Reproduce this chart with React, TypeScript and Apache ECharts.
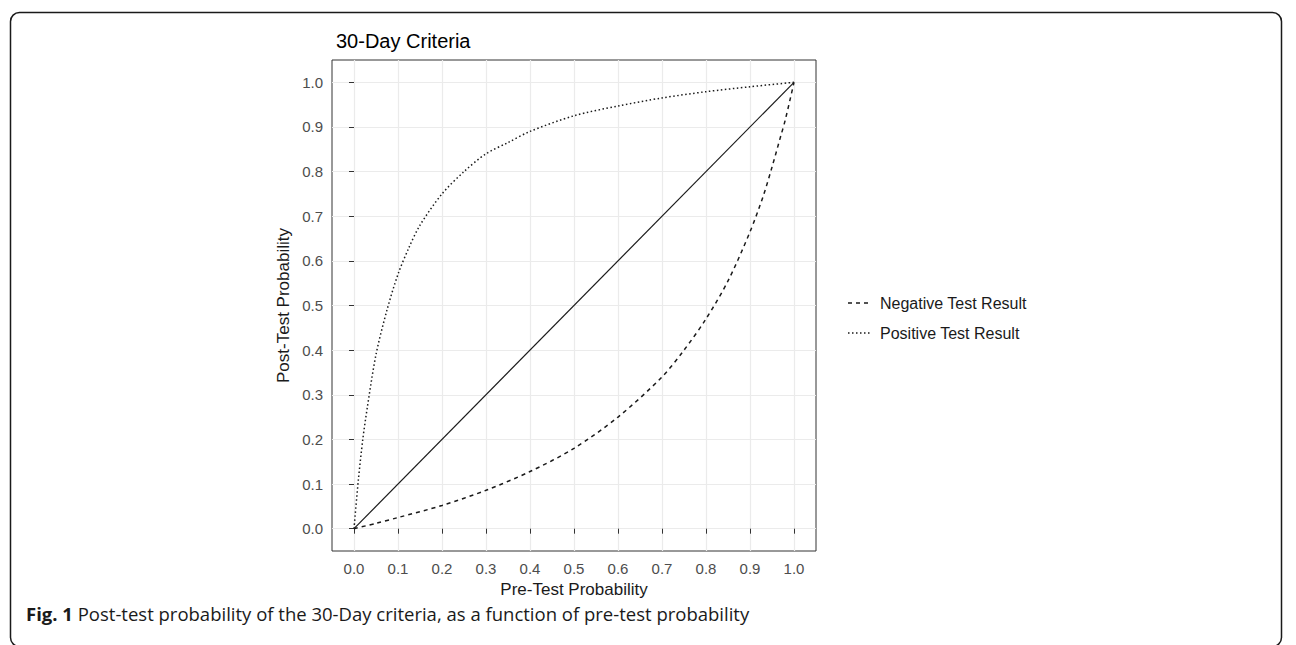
import React, { useEffect, useRef } from "react";
import * as echarts from "echarts";

const TITLE = "30-Day Criteria";
const X_NAME = "Pre-Test Probability";
const Y_NAME = "Post-Test Probability";
const CAPTION_BOLD = "Fig. 1";
const CAPTION_TEXT = " Post-test probability of the 30-Day criteria, as a function of pre-test probability";
const LEGEND_NAMES = ["Negative Test Result", "Positive Test Result"];

const tickValues = [0, 0.1, 0.2, 0.3, 0.4, 0.5, 0.6, 0.7, 0.8, 0.9, 1.0];

const positivePre = [0, 0.01, 0.02, 0.03, 0.05, 0.075, 0.1, 0.125, 0.15, 0.2, 0.25, 0.3, 0.35, 0.4, 0.5, 0.6, 0.7, 0.8, 0.9, 1.0];
const positivePost = [0, 0.11, 0.2, 0.27, 0.39, 0.49, 0.57, 0.63, 0.68, 0.75, 0.8, 0.84, 0.865, 0.89, 0.925, 0.947, 0.965, 0.979, 0.99, 1.0];

const negativePre = [0, 0.05, 0.1, 0.2, 0.3, 0.4, 0.5, 0.6, 0.7, 0.75, 0.8, 0.85, 0.9, 0.93, 0.95, 0.97, 0.98, 1.0];
const negativePost = [0, 0.012, 0.025, 0.052, 0.086, 0.128, 0.18, 0.25, 0.34, 0.4, 0.47, 0.555, 0.665, 0.745, 0.81, 0.88, 0.915, 1.0];

const diagonalPre = [0, 1];
const diagonalPost = [0, 1];

const FONT = "'Liberation Sans', Arial, sans-serif";
const DASH_NEG = [4, 4];
const DASH_POS = [1.5, 2.5];

export default function App() {
  const ref = useRef<HTMLDivElement>(null);
  useEffect(() => {
    if (!ref.current) return;
    const chart = echarts.init(ref.current, null, { renderer: "svg" });
    const pair = (xs: number[], ys: number[]) => xs.map((x, i) => [x, ys[i]]);
    const axisCommon = {
      type: "value",
      min: -0.05,
      max: 1.05,
      interval: 0.05,
      nameLocation: "middle",
      nameTextStyle: { color: "#1a1a1a", fontSize: 17, fontFamily: FONT },
      axisLine: { show: false },
      axisTick: {
        show: true,
        length: 5,
        customValues: tickValues,
        lineStyle: { color: "#333", width: 1 },
      },
      axisLabel: {
        customValues: tickValues,
        color: "#4d4d4d",
        fontSize: 15,
        fontFamily: FONT,
        formatter: (v: number) => v.toFixed(1),
      },
      splitLine: { show: true, lineStyle: { color: "#ebebeb", width: 1.2 } },
    };
    const legendY = [303, 333];
    const legendGraphics: any[] = [];
    LEGEND_NAMES.forEach((name, i) => {
      legendGraphics.push({
        type: "line",
        shape: { x1: 848, y1: legendY[i], x2: 872, y2: legendY[i] },
        style: { stroke: "#1a1a1a", lineWidth: 1.5, lineDash: i === 0 ? DASH_NEG : DASH_POS },
        silent: true,
      });
      legendGraphics.push({
        type: "text",
        x: 880,
        y: legendY[i],
        style: {
          text: name,
          fontFamily: FONT,
          fontSize: 16,
          fill: "#1a1a1a",
          verticalAlign: "middle",
          align: "left",
        },
      });
    });
    chart.setOption({
      animation: false,
      title: {
        text: TITLE,
        left: 331,
        top: 26,
        textStyle: { fontSize: 20, fontWeight: "normal", color: "#000", fontFamily: FONT },
      },
      grid: {
        left: 332,
        top: 60,
        width: 484,
        height: 491,
        show: true,
        borderColor: "#333",
        borderWidth: 1,
        backgroundColor: "#fff",
      },
      xAxis: {
        ...axisCommon,
        name: X_NAME,
        nameGap: 30,
        axisLabel: { ...axisCommon.axisLabel, margin: 10 },
      },
      yAxis: {
        ...axisCommon,
        name: Y_NAME,
        nameGap: 40,
        axisLabel: { ...axisCommon.axisLabel, margin: 9 },
      },
      graphic: [
        {
          type: "rect",
          shape: { x: 10.5, y: 12.5, width: 1271, height: 634, r: 9 },
          style: { fill: "none", stroke: "#1a1a1a", lineWidth: 1.5 },
          silent: true,
        },
        ...legendGraphics,
        {
          type: "text",
          x: 26,
          y: 613,
          style: {
            text: "{b|" + CAPTION_BOLD + "}{n|" + CAPTION_TEXT + "}",
            verticalAlign: "middle",
            rich: {
              b: { fontFamily: "'Open Sans', sans-serif", fontWeight: "bold", fontSize: 18.5, fill: "#1a1a1a" },
              n: { fontFamily: "'Open Sans', sans-serif", fontSize: 18.5, fill: "#1a1a1a" },
            },
          },
        },
      ],
      series: [
        {
          name: "Diagonal",
          type: "line",
          data: pair(diagonalPre, diagonalPost),
          symbol: "none",
          lineStyle: { color: "#1a1a1a", width: 1.2, type: "solid" },
        },
        {
          name: LEGEND_NAMES[0],
          type: "line",
          data: pair(negativePre, negativePost),
          symbol: "none",
          smooth: 0.3,
          lineStyle: { color: "#1a1a1a", width: 1.5, type: DASH_NEG },
        },
        {
          name: LEGEND_NAMES[1],
          type: "line",
          data: pair(positivePre, positivePost),
          symbol: "none",
          smooth: 0.3,
          lineStyle: { color: "#1a1a1a", width: 1.5, type: DASH_POS },
        },
      ],
    });
    return () => chart.dispose();
  }, []);
  return (
    <div
      ref={ref}
      style={{ position: "fixed", left: 0, top: 0, width: 1296, height: 645, background: "#fff" }}
    />
  );
}
